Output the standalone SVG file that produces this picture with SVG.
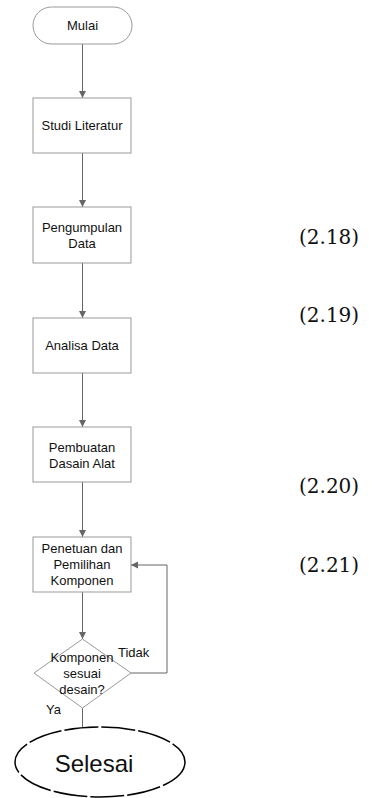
<svg xmlns="http://www.w3.org/2000/svg" width="372" height="798" viewBox="0 0 372 798">
<style>
.box{fill:#fff;stroke:#999;stroke-width:1}
.t{font-family:"Liberation Sans",Arial,sans-serif;font-size:13px;fill:#111;text-anchor:middle}
.lbl{font-family:"Liberation Sans",Arial,sans-serif;font-size:13px;fill:#111}
.eq{font-family:"DejaVu Serif","Liberation Serif",serif;font-size:20px;fill:#111}
.c{fill:none;stroke:#666;stroke-width:1}
</style>
<defs>
<marker id="ah" markerWidth="8" markerHeight="8" refX="7" refY="4" orient="auto" markerUnits="userSpaceOnUse">
<path d="M0,0.5 L7,4 L0,7.5 Z" fill="#666"/>
</marker>
</defs>
<rect width="372" height="798" fill="#fff"/>
<g id="connectors">
<line class="c" x1="82.5" y1="44" x2="82.5" y2="98" marker-end="url(#ah)"/>
<line class="c" x1="82.5" y1="153" x2="82.5" y2="207" marker-end="url(#ah)"/>
<line class="c" x1="82.5" y1="263" x2="82.5" y2="318" marker-end="url(#ah)"/>
<line class="c" x1="82.5" y1="373" x2="82.5" y2="427" marker-end="url(#ah)"/>
<line class="c" x1="82.5" y1="482" x2="82.5" y2="537" marker-end="url(#ah)"/>
<line class="c" x1="82.5" y1="592" x2="82.5" y2="639" marker-end="url(#ah)"/>
<path class="c" d="M131,673 H167 V565 H131" marker-end="url(#ah)"/>
<line class="c" x1="82.5" y1="708" x2="82.5" y2="727"/>
</g>
<g id="mulai">
<rect class="box" x="33" y="7" width="99" height="37" rx="18.5"/>
<text class="t" x="82.5" y="30">Mulai</text>
</g>
<g id="studi">
<rect class="box" x="33" y="98" width="98" height="55"/>
<text class="t" x="82" y="130">Studi Literatur</text>
</g>
<g id="pengumpulan">
<rect class="box" x="33" y="207" width="98" height="56"/>
<text class="t" x="82" y="232">Pengumpulan</text>
<text class="t" x="82" y="248">Data</text>
</g>
<g id="analisa">
<rect class="box" x="33" y="318" width="98" height="55"/>
<text class="t" x="82" y="350">Analisa Data</text>
</g>
<g id="pembuatan">
<rect class="box" x="33" y="427" width="98" height="55"/>
<text class="t" x="82" y="452">Pembuatan</text>
<text class="t" x="82" y="468">Dasain Alat</text>
</g>
<g id="penetuan">
<rect class="box" x="33" y="537" width="98" height="55"/>
<text class="t" x="82" y="553">Penetuan dan</text>
<text class="t" x="82" y="569">Pemilihan</text>
<text class="t" x="82" y="585">Komponen</text>
</g>
<g id="keputusan">
<polygon class="box" points="82.5,639 131,673 82.5,708 34,673"/>
<text class="t" x="82" y="662">Komponen</text>
<text class="t" x="82" y="678">sesuai</text>
<text class="t" x="82" y="694">desain?</text>
<text class="lbl" x="118" y="657">Tidak</text>
<text class="lbl" x="46" y="714">Ya</text>
</g>
<g id="selesai">
<ellipse cx="100" cy="762" rx="85" ry="35" fill="#fff" stroke="#000" stroke-width="1.5" stroke-dasharray="34 3"/>
<text class="t" x="94" y="772" style="font-size:24px">Selesai</text>
</g>
<g id="equations">
<text class="eq" x="299" y="244">(2.18)</text>
<text class="eq" x="299" y="322">(2.19)</text>
<text class="eq" x="299" y="493">(2.20)</text>
<text class="eq" x="299" y="572">(2.21)</text>
</g>
</svg>
